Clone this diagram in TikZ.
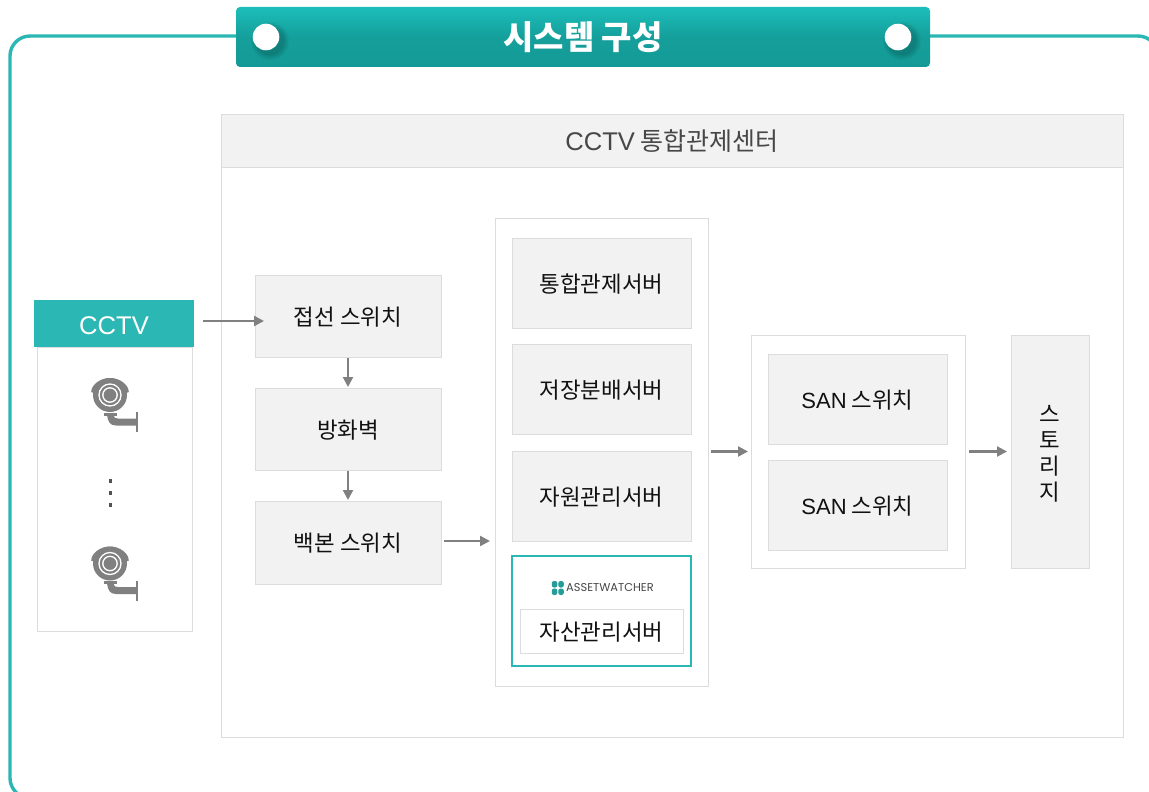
\documentclass[tikz,border=0pt]{standalone}
\usepackage{fontspec}
\setmainfont{Noto Sans CJK KR}
\newfontfamily\latf{Liberation Sans}
\newfontfamily\logofont{Poppins}
\usetikzlibrary{arrows.meta}
\definecolor{teal}{HTML}{2BB7B3}
\definecolor{ttop}{HTML}{1CBEBA}
\definecolor{tmid}{HTML}{159F9B}
\definecolor{tbot}{HTML}{149A96}
\definecolor{edge}{HTML}{DCDCDC}
\definecolor{soft}{HTML}{F2F2F2}
\definecolor{arr}{HTML}{808080}
\definecolor{ink}{HTML}{111111}
\tikzset{
  x=1pt,y=-1pt,
  panel/.style={draw=edge,line width=1pt,fill=white,inner sep=0pt,outer sep=0pt},
  box/.style={panel,fill=soft,text=ink,text height=18.6pt,text depth=0pt,font=\fontsize{22.4}{26}\selectfont},
  vchar/.style={inner sep=0pt,text=ink,text height=18.6pt,text depth=0pt,font=\fontsize{22.4}{26}\selectfont},
  flow/.style={draw=arr,line width=2.2pt,-{Triangle[length=10pt,width=10pt]}},
  cam/.pic={
    \fill[arr] (0,0) circle (17);
    \fill[arr] (-18.8,-3) .. controls (-18.8,-10) and (-10,-17) .. (0,-17) .. controls (10,-17) and (18.8,-10) .. (18.8,-3) .. controls (17,-.5) and (-17,-.5) .. (-18.8,-3) -- cycle;
    \draw[white,line width=1.3pt] (0,0) circle (11);
    \draw[white,line width=1.3pt] (0,0) circle (7.2);
    \fill[arr] (-6,17.5) rectangle (6.5,20.5);
    \fill[arr] (-3,20) .. controls (-2,27) and (0,30.5) .. (6,30.5) -- (27,30.5) -- (27,23.5) -- (8,23.5) .. controls (5,23.5) and (4,23) .. (3.5,20) -- cycle;
    \draw[arr,line width=1.5pt] (27,17) -- (27,37);
  }
}
\begin{document}
\begin{tikzpicture}
\useasboundingbox (0,0) rectangle (1149,792);
\fill[white] (0,0) rectangle (1149,792);
% outer frame
\draw[teal,line width=3.4pt,rounded corners=20pt] (10,36) rectangle (1158,798);
% title banner
\node[draw=none,inner sep=0pt,minimum width=694pt,minimum height=60pt,rounded corners=4pt,
  top color=ttop,bottom color=tbot,middle color=tmid,
  text=white,font=\fontsize{33}{38}\bfseries\selectfont] (title) at (583,37) {시스템 구성};
\foreach \cx/\nm in {266/dotl,898/dotr}{
  \foreach \r in {19,18,17,16,15,14}{\fill[black,opacity=.03] (\cx+4,41) circle (\r);}
  \fill[white] (\cx,37) circle (13.3);
}
% centre panel
\node[panel,minimum width=902pt,minimum height=623pt] (centre) at (672,425.5) {};
\node[box,minimum width=902pt,minimum height=53pt,text=black!72,text height=19.5pt,font=\fontsize{25}{30}\selectfont] (centrehead) at (672,140.5) {{\latf\fontsize{25.6}{30}\selectfont CCTV} 통합관제센터};
% CCTV column
\node[panel,minimum width=155pt,minimum height=284pt] (cctvbody) at (114.5,489) {};
\node[fill=teal,text=white,inner sep=0pt,outer sep=0pt,minimum width=160pt,minimum height=47pt,text height=22pt,text depth=0pt,font=\latf\fontsize{25.6}{30}\selectfont] (cctv) at (114,323.5) {CCTV};
\pic at (110,395) {cam};
\pic at (110,563.5) {cam};
\foreach \dy in {481,493,505}{\fill[black!68] (108.8,\dy-1.7) rectangle (112.2,\dy+1.7);}
% network column
\node[box,minimum width=186pt,minimum height=82pt] (access) at (348,316) {접선 스위치};
\node[box,minimum width=186pt,minimum height=82pt] (firewall) at (348,429) {방화벽};
\node[box,minimum width=186pt,minimum height=83pt] (backbone) at (348,542.5) {백본 스위치};
% server column
\node[panel,minimum width=213pt,minimum height=468pt] (servers) at (601.5,452) {};
\node[box,minimum width=179pt,minimum height=90pt] (srv1) at (601.5,283) {통합관제서버};
\node[box,minimum width=179pt,minimum height=90pt] (srv2) at (601.5,389) {저장분배서버};
\node[box,minimum width=179pt,minimum height=90pt] (srv3) at (601.5,496) {자원관리서버};
\node[panel,draw=teal,line width=2.4pt,minimum width=179pt,minimum height=110pt] (asset) at (601.5,611) {};
\node[box,fill=white,minimum width=163pt,minimum height=44pt] (srv4) at (601.5,631) {자산관리서버};
\foreach \sx/\sy in {-1/-1,1/-1,-1/1,1/1}{
  \fill[teal!85!black,rounded corners=2.2pt] (557.8+\sx*.5,588+\sy*.5) rectangle (557.8+\sx*6,588+\sy*7);
}
\node[inner sep=0pt,text=black!72,font=\logofont\fontsize{11.4}{13}\selectfont] (logo) at (610,588) {ASSETWATCHER};
% SAN column
\node[panel,minimum width=214pt,minimum height=233pt] (san) at (858,451.5) {};
\node[box,minimum width=179pt,minimum height=90pt] (san1) at (857.5,399) {{\latf\fontsize{22}{26}\selectfont SAN} 스위치};
\node[box,minimum width=179pt,minimum height=90pt] (san2) at (857.5,505) {{\latf\fontsize{22}{26}\selectfont SAN} 스위치};
% storage
\node[box,minimum width=78pt,minimum height=233pt] (storage) at (1050,451.5) {};
\node[vchar] (st1) at (1050,413) {스};
\node[vchar] (st2) at (1050,439) {토};
\node[vchar] (st3) at (1050,465) {리};
\node[vchar] (st4) at (1050,491) {지};
% connectors
\draw[flow] ([xshift=9pt,yshift=2.5pt]cctv.east) -- ([xshift=9pt,yshift=-5pt]access.west);
\draw[flow] ([yshift=-1pt]access.south) -- ([yshift=1pt]firewall.north);
\draw[flow] ([yshift=-1pt]firewall.south) -- ([yshift=1pt]backbone.north);
\draw[flow] ([xshift=3pt,yshift=1.5pt]backbone.east) -- ([xshift=-5pt,yshift=-89pt]servers.west);
\draw[flow] ([xshift=3pt,yshift=.5pt]servers.east) -- ([xshift=-3pt]san.west);
\draw[flow] ([xshift=4pt]san.east) -- ([xshift=-4pt]storage.west);
\end{tikzpicture}
\end{document}
